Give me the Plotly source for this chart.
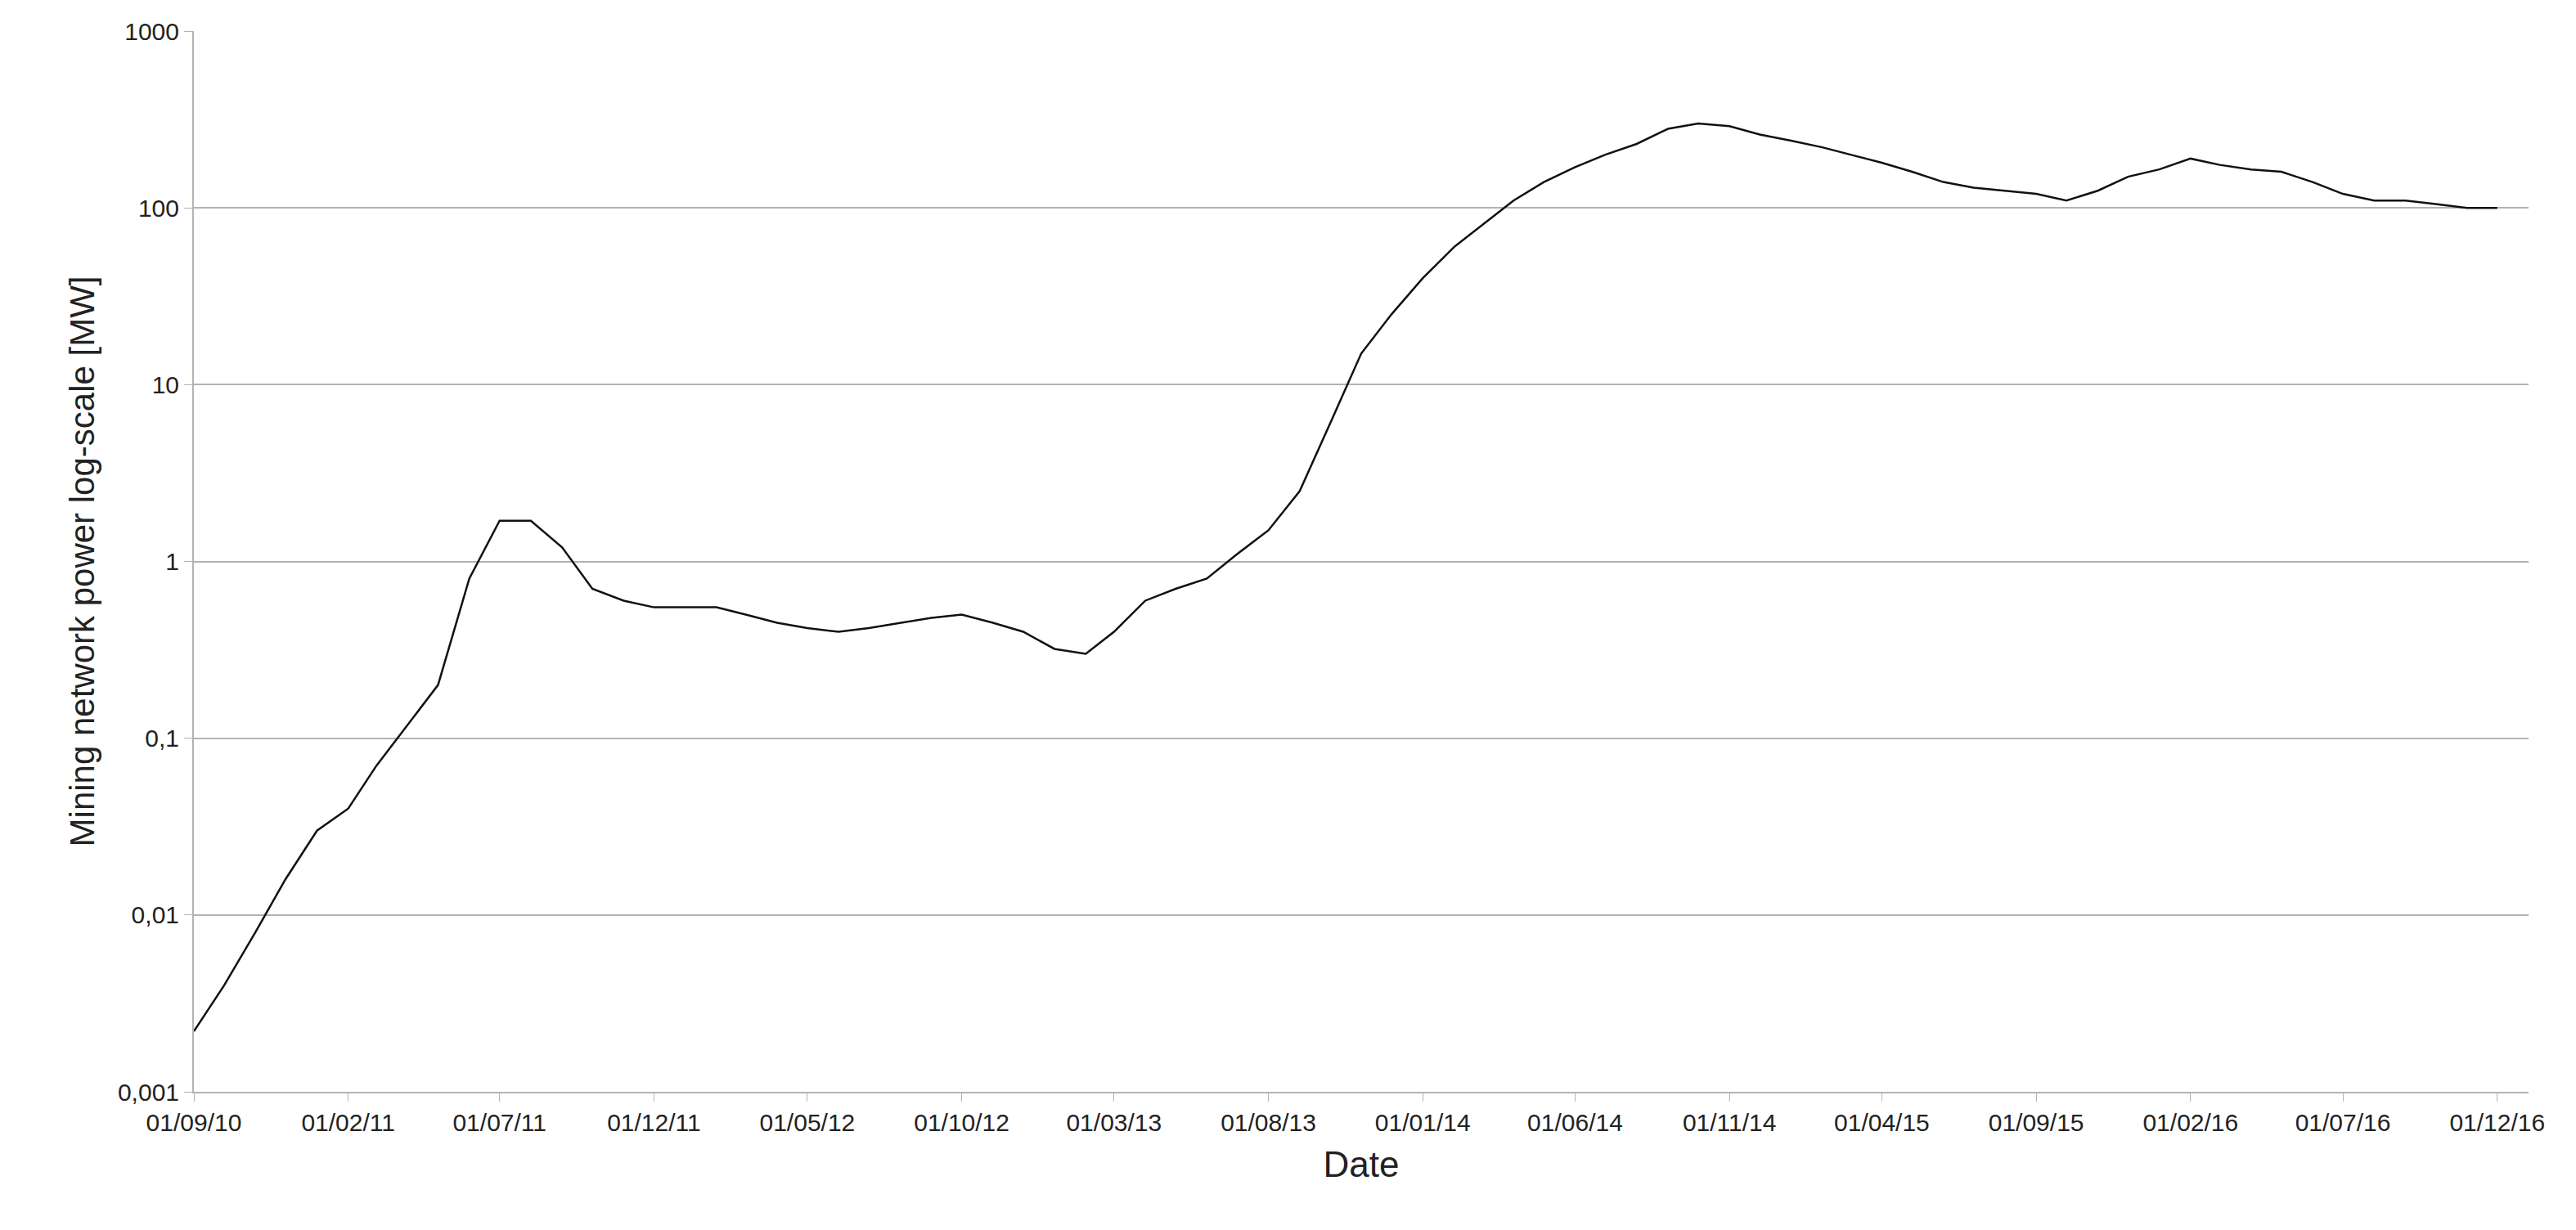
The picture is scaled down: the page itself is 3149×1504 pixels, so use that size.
import plotly.graph_objects as go
import pandas as pd

months = pd.date_range("2010-09-01", "2016-12-01", freq="MS").strftime("%Y-%m-%d").tolist()
power_mw = [0.0022, 0.004, 0.008, 0.016, 0.03, 0.04, 0.07, 0.12, 0.2, 0.8,
            1.7, 1.7, 1.2, 0.7, 0.6, 0.55,
            0.55, 0.55, 0.5, 0.45, 0.42, 0.4, 0.42, 0.45, 0.48, 0.5, 0.45, 0.4,
            0.32, 0.3, 0.4, 0.6, 0.7, 0.8, 1.1, 1.5, 2.5, 6, 15, 25,
            40, 60, 80, 110, 140, 170, 200, 230, 280, 300, 290, 260,
            240, 220, 200, 180, 160, 140, 130, 125, 120, 110, 125, 150,
            165, 190, 175, 165, 160, 140, 120, 110, 110, 105, 100, 100]
tick_dates = ["2010-09-01", "2011-02-01", "2011-07-01", "2011-12-01", "2012-05-01",
              "2012-10-01", "2013-03-01", "2013-08-01", "2014-01-01", "2014-06-01",
              "2014-11-01", "2015-04-01", "2015-09-01", "2016-02-01", "2016-07-01",
              "2016-12-01"]
tick_labels = ["01/09/10", "01/02/11", "01/07/11", "01/12/11", "01/05/12", "01/10/12",
               "01/03/13", "01/08/13", "01/01/14", "01/06/14", "01/11/14", "01/04/15",
               "01/09/15", "01/02/16", "01/07/16", "01/12/16"]
y_ticks = [0.001, 0.01, 0.1, 1, 10, 100, 1000]
y_labels = ["0,001", "0,01", "0,1", "1", "10", "100", "1000"]

fig = go.Figure(go.Scatter(x=months, y=power_mw, mode="lines",
                           line=dict(color="#111111", width=2.5)))
fig.update_layout(
    width=3149, height=1504, plot_bgcolor="white", paper_bgcolor="white",
    margin=dict(l=229, r=66, t=30, b=177), showlegend=False,
    font=dict(family="Liberation Sans, Arial", size=30, color="#222"),
)
fig.update_xaxes(type="date", range=["2010-09-01", "2017-01-01"], tickvals=tick_dates,
                 ticktext=tick_labels, showgrid=False, showline=True, linecolor="#b3b3b3",
                 linewidth=2, ticks="outside", tickcolor="#b3b3b3", ticklen=10,
                 title=dict(text="Date", font=dict(size=44), standoff=20), mirror=False)
fig.update_yaxes(type="log", range=[-3, 3], tickvals=y_ticks, ticktext=y_labels,
                 showgrid=True, gridcolor="#b3b3b3", gridwidth=2, showline=True,
                 linecolor="#b3b3b3", linewidth=2, ticks="outside", tickcolor="#b3b3b3",
                 ticklen=10, zeroline=False,
                 title=dict(text="Mining network power log-scale [MW]", font=dict(size=42)))
fig.write_html("out.html")
